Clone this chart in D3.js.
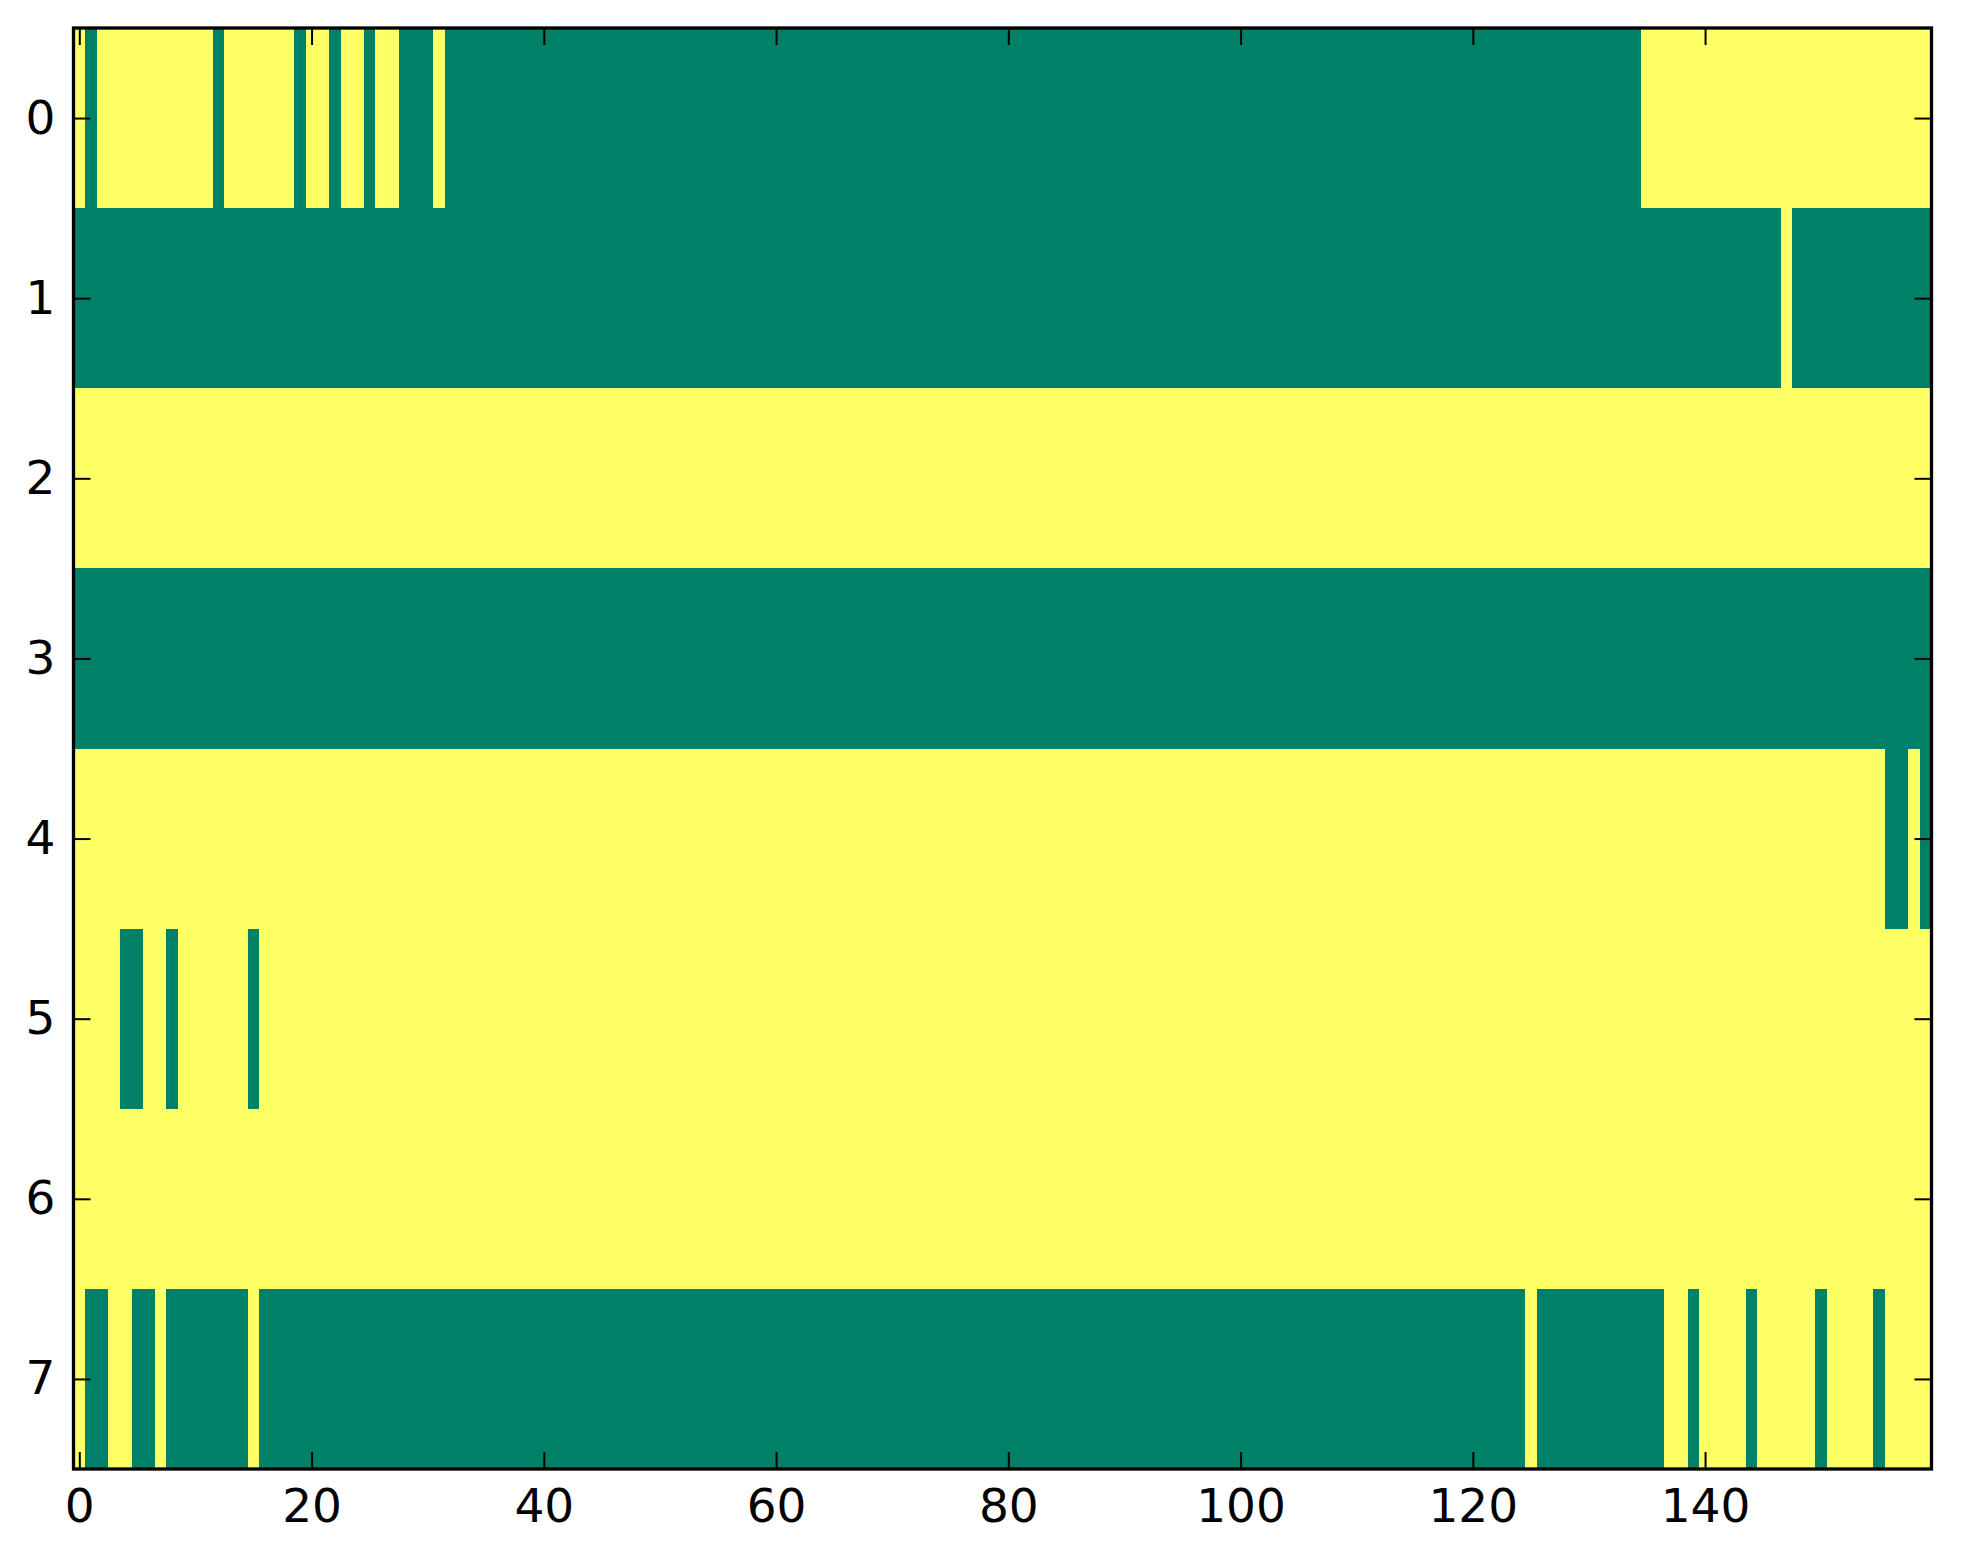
<!DOCTYPE html>
<html>
<head>
<meta charset="utf-8">
<script src="https://cdn.jsdelivr.net/npm/d3@7"></script>
<style>
  html, body { margin: 0; padding: 0; background: #ffffff; }
  svg { display: block; }
  text { font-family: "DejaVu Sans", sans-serif; }
</style>
</head>
<body>
<svg id="chart" width="1963" height="1564"></svg>
<script>
// ---- Data: binary 8 x 160 grid, each row as run-length pairs [value, count] ----
// value 0 = low (green), 1 = high (yellow)
const nCols = 160;
const rowIds = [0, 1, 2, 3, 4, 5, 6, 7];
const row0 = [[1,1],[0,1],[1,10],[0,1],[1,6],[0,1],[1,2],[0,1],[1,2],[0,1],[1,2],[0,3],[1,1],[0,103],[1,25]];
const row1 = [[0,147],[1,1],[0,12]];
const row2 = [[1,160]];
const row3 = [[0,160]];
const row4 = [[1,156],[0,2],[1,1],[0,1]];
const row5 = [[1,4],[0,2],[1,2],[0,1],[1,6],[0,1],[1,144]];
const row6 = [[1,160]];
const row7 = [[1,1],[0,2],[1,2],[0,2],[1,1],[0,7],[1,1],[0,109],[1,1],[0,11],[1,2],[0,1],[1,4],[0,1],[1,5],[0,1],[1,4],[0,1],[1,4]];
const rows = [row0, row1, row2, row3, row4, row5, row6, row7];
const xTickValues = [0, 20, 40, 60, 80, 100, 120, 140];
const yTickValues = [0, 1, 2, 3, 4, 5, 6, 7];
const colorLow = "#008066";   // summer colormap 0
const colorHigh = "#ffff66";  // summer colormap 1

// ---- Layout ----
const plotLeft = 73.5, plotRight = 1931.5, plotTop = 28, plotBottom = 1469;
const tickLen = 17;
const fontSize = 47;

const svg = d3.select("#chart");
svg.append("rect").attr("width", 1963).attr("height", 1564).attr("fill", "#ffffff");

const x = d3.scaleLinear().domain([-0.5, nCols - 0.5]).range([plotLeft, plotRight]);
const y = d3.scaleLinear().domain([-0.5, rowIds.length - 0.5]).range([plotTop, plotBottom]);
const color = d3.scaleOrdinal().domain([0, 1]).range([colorLow, colorHigh]);

// expand runs into segments with start column
const segments = [];
rows.forEach((runs, r) => {
  let c = 0;
  runs.forEach(([v, n]) => {
    segments.push({ row: rowIds[r], start: c, count: n, value: v });
    c += n;
  });
});

svg.append("g").selectAll("rect")
  .data(segments)
  .join("rect")
  .attr("x", d => x(d.start - 0.5))
  .attr("y", d => y(d.row - 0.5))
  .attr("width", d => x(d.start + d.count - 0.5) - x(d.start - 0.5))
  .attr("height", d => y(d.row + 0.5) - y(d.row - 0.5))
  .attr("fill", d => color(d.value))
  .attr("shape-rendering", "crispEdges");

// ---- Axes (ticks pointing inward on all four sides) ----
function styleAxis(g) {
  g.select(".domain").remove();
  g.selectAll(".tick line").attr("stroke", "#000").attr("stroke-width", 2);
  g.selectAll(".tick text")
    .attr("fill", "#000")
    .style("font-family", "'DejaVu Sans', sans-serif")
    .style("font-size", fontSize + "px");
}

svg.append("g")
  .attr("transform", `translate(0,${plotBottom})`)
  .call(d3.axisBottom(x).tickValues(xTickValues).tickSizeInner(-tickLen).tickSizeOuter(0).tickPadding(20).tickFormat(d3.format("d")))
  .call(styleAxis);

svg.append("g")
  .attr("transform", `translate(0,${plotTop})`)
  .call(d3.axisTop(x).tickValues(xTickValues).tickSizeInner(-tickLen).tickSizeOuter(0).tickFormat(""))
  .call(styleAxis);

svg.append("g")
  .attr("transform", `translate(${plotLeft},0)`)
  .call(d3.axisLeft(y).tickValues(yTickValues).tickSizeInner(-tickLen).tickSizeOuter(0).tickPadding(18).tickFormat(d3.format("d")))
  .call(styleAxis);

svg.append("g")
  .attr("transform", `translate(${plotRight},0)`)
  .call(d3.axisRight(y).tickValues(yTickValues).tickSizeInner(-tickLen).tickSizeOuter(0).tickFormat(""))
  .call(styleAxis);

// ---- Frame ----
svg.append("rect")
  .attr("x", plotLeft).attr("y", plotTop)
  .attr("width", plotRight - plotLeft).attr("height", plotBottom - plotTop)
  .attr("fill", "none").attr("stroke", "#000").attr("stroke-width", 3.3);
</script>
</body>
</html>
